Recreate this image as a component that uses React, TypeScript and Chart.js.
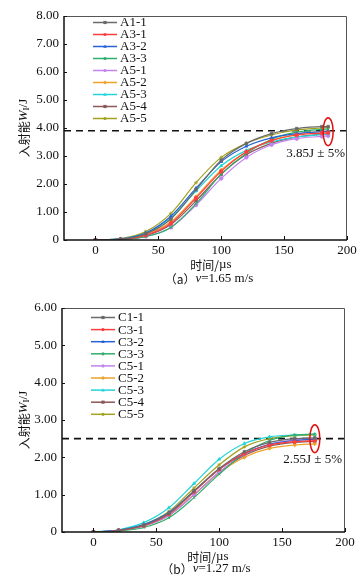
import React, { useEffect, useRef } from "react";
import { Chart, registerables } from "chart.js";
Chart.register(...registerables);

// ---------- DATA ----------
const timeA = [0, 20, 40, 60, 80, 100, 120, 140, 160, 180, 185];
const labelsA = ["A1-1", "A3-1", "A3-2", "A3-3", "A5-1", "A5-2", "A5-3", "A5-4", "A5-5"];
const a11 = [0, 0.03, 0.22, 0.75, 1.8, 2.85, 3.45, 3.8, 3.98, 4.05, 4.05];
const a31 = [0, 0.02, 0.17, 0.6, 1.5, 2.45, 3.15, 3.55, 3.75, 3.82, 3.83];
const a32 = [0, 0.04, 0.25, 0.85, 1.85, 2.8, 3.35, 3.65, 3.8, 3.87, 3.88];
const a33 = [0, 0.02, 0.12, 0.45, 1.3, 2.35, 3.1, 3.6, 3.85, 3.95, 3.96];
const a51 = [0, 0.02, 0.13, 0.45, 1.25, 2.2, 2.95, 3.4, 3.62, 3.7, 3.72];
const a52 = [0, 0.03, 0.2, 0.65, 1.55, 2.5, 3.15, 3.55, 3.78, 3.88, 3.9];
const a53 = [0, 0.04, 0.24, 0.8, 1.75, 2.65, 3.2, 3.5, 3.68, 3.76, 3.78];
const a54 = [0, 0.02, 0.15, 0.55, 1.4, 2.35, 3.05, 3.45, 3.68, 3.78, 3.8];
const a55 = [0, 0.05, 0.3, 0.95, 2.05, 2.95, 3.45, 3.75, 3.93, 4.0, 4.02];
const seriesA = [a11, a31, a32, a33, a51, a52, a53, a54, a55];
const refA = 3.9;
const noteA = "3.85J ± 5%";
const captionA = ["（a）", "v", "=1.65 m/s"];

const timeC = [0, 20, 40, 60, 80, 100, 120, 140, 160, 176];
const labelsC = ["C1-1", "C3-1", "C3-2", "C3-3", "C5-1", "C5-2", "C5-3", "C5-4", "C5-5"];
const c11 = [0, 0.04, 0.18, 0.5, 1.1, 1.7, 2.15, 2.4, 2.5, 2.52];
const c31 = [0, 0.04, 0.17, 0.48, 1.08, 1.68, 2.1, 2.33, 2.42, 2.45];
const c32 = [0, 0.05, 0.2, 0.52, 1.1, 1.68, 2.1, 2.35, 2.45, 2.48];
const c33 = [0, 0.03, 0.12, 0.38, 0.92, 1.55, 2.1, 2.45, 2.6, 2.62];
const c51 = [0, 0.04, 0.16, 0.45, 1.0, 1.6, 2.08, 2.35, 2.47, 2.5];
const c52 = [0, 0.04, 0.17, 0.46, 1.0, 1.58, 2.0, 2.24, 2.33, 2.36];
const c53 = [0, 0.06, 0.25, 0.65, 1.3, 1.95, 2.37, 2.55, 2.6, 2.62];
const c54 = [0, 0.04, 0.16, 0.44, 1.0, 1.6, 2.05, 2.3, 2.4, 2.43];
const c55 = [0, 0.05, 0.2, 0.55, 1.18, 1.8, 2.28, 2.5, 2.58, 2.6];
const seriesC = [c11, c31, c32, c33, c51, c52, c53, c54, c55];
const refC = 2.5;
const noteC = "2.55J ± 5%";
const captionC = ["（b）", "v", "=1.27 m/s"];

const xTicks = [0, 50, 100, 150, 200];
const xMin = -25;
const xMax = 200;

const colors = ["#6a6a6a", "#ff3d3d", "#2563d6", "#2fae6c", "#c183ef", "#eda22a", "#22d4d8", "#8a5858", "#a3a11e"];
const markers = ["rect", "circle", "triangle", "crossRot", "circle", "rectRot", "triangle", "rect", "star"];

const SERIF = "'Liberation Serif', 'DejaVu Serif', serif";
const CJK = "'Noto Sans CJK SC', sans-serif";

type Panel = {
  time: number[];
  labels: string[];
  series: number[][];
  yMax: number;
  ref: number;
  note: string;
  caption: string[];
  ellipseX: number;
  ellipseY: number;
  area: { left: number; right: number; top: number; bottom: number };
  legendY: number;
  legendStep: number;
  xTitleY: number;
  captionY: number;
  noteY: number;
  noteRight: number;
  titleX: number;
};

const panels: Panel[] = [
  {
    time: timeA, labels: labelsA, series: seriesA, yMax: 8, ref: refA, note: noteA, caption: captionA,
    ellipseX: 185, ellipseY: 3.87,
    area: { left: 64, right: 347, top: 16, bottom: 240 },
    legendY: 22.5, legendStep: 12, xTitleY: 265, captionY: 279, noteY: 154, noteRight: 345, titleX: 211,
  },
  {
    time: timeC, labels: labelsC, series: seriesC, yMax: 6, ref: refC, note: noteC, caption: captionC,
    ellipseX: 176, ellipseY: 2.5,
    area: { left: 62, right: 345, top: 15, bottom: 239 },
    legendY: 24.5, legendStep: 12.1, xTitleY: 264, captionY: 276, noteY: 167, noteRight: 342, titleX: 208,
  },
];

function drawMarker(ctx: CanvasRenderingContext2D, style: string, x: number, y: number, r: number, color: string) {
  ctx.save();
  ctx.fillStyle = color;
  ctx.strokeStyle = color;
  ctx.lineWidth = 1;
  ctx.beginPath();
  if (style === "rect") ctx.rect(x - r, y - r, 2 * r, 2 * r);
  else if (style === "triangle") { ctx.moveTo(x, y - r * 1.2); ctx.lineTo(x + r * 1.1, y + r * 0.8); ctx.lineTo(x - r * 1.1, y + r * 0.8); ctx.closePath(); }
  else if (style === "rectRot") { ctx.moveTo(x, y - r * 1.3); ctx.lineTo(x + r * 1.3, y); ctx.lineTo(x, y + r * 1.3); ctx.lineTo(x - r * 1.3, y); ctx.closePath(); }
  else ctx.arc(x, y, r, 0, Math.PI * 2);
  ctx.fill();
  ctx.restore();
}

function makeOverlay(p: Panel) {
  return {
    id: "overlay",
    afterDraw(chart: any) {
      const ctx: CanvasRenderingContext2D = chart.ctx;
      const { left, right, top, bottom } = chart.chartArea;
      const xs = chart.scales.x;
      const ys = chart.scales.y;
      ctx.save();
      // frame
      ctx.strokeStyle = "#555";
      ctx.lineWidth = 1;
      ctx.beginPath();
      ctx.moveTo(left, top + 0.5);
      ctx.lineTo(right - 0.5, top + 0.5);
      ctx.lineTo(right - 0.5, bottom);
      ctx.stroke();
      ctx.strokeStyle = "#111";
      ctx.lineWidth = 1.5;
      ctx.beginPath();
      ctx.moveTo(left, top);
      ctx.lineTo(left, bottom);
      ctx.lineTo(right, bottom);
      ctx.stroke();
      // inside ticks
      ctx.lineWidth = 1;
      xTicks.forEach((v) => {
        const px = Math.round(xs.getPixelForValue(v)) + 0.5;
        ctx.beginPath();
        ctx.moveTo(px, bottom);
        ctx.lineTo(px, bottom - 4);
        ctx.stroke();
      });
      for (let v = 0; v <= p.yMax; v++) {
        const py = Math.round(ys.getPixelForValue(v)) + 0.5;
        ctx.beginPath();
        ctx.moveTo(left, py);
        ctx.lineTo(left + 3, py);
        ctx.stroke();
      }
      // ellipse
      const ex = xs.getPixelForValue(p.ellipseX);
      const ey = ys.getPixelForValue(p.ellipseY);
      ctx.strokeStyle = "#e01010";
      ctx.lineWidth = 1.5;
      ctx.beginPath();
      ctx.ellipse(ex, ey, 5, 14, 0, 0, Math.PI * 2);
      ctx.stroke();
      // note
      ctx.fillStyle = "#111";
      ctx.font = `13px ${SERIF}`;
      ctx.textAlign = "right";
      ctx.textBaseline = "middle";
      ctx.fillText(p.note, p.noteRight, p.noteY);
      // legend
      ctx.textAlign = "left";
      ctx.font = `13px ${SERIF}`;
      p.labels.forEach((lab, i) => {
        const y = p.legendY + i * p.legendStep;
        ctx.strokeStyle = colors[i];
        ctx.lineWidth = 1.5;
        ctx.beginPath();
        ctx.moveTo(left + 29, y);
        ctx.lineTo(left + 53, y);
        ctx.stroke();
        drawMarker(ctx, markers[i], left + 41, y, 1.6, colors[i]);
        ctx.fillStyle = "#111";
        ctx.fillText(lab, left + 56, y + 0.5);
      });
      // y title
      const cy = (top + bottom) / 2;
      ctx.save();
      ctx.translate(24, cy);
      ctx.rotate(-Math.PI / 2);
      ctx.textBaseline = "middle";
      const parts: [string, string, number][] = [
        ["入射能", `12px ${CJK}`, 0],
        ["W", `italic 13px ${SERIF}`, 0],
        ["I", `9px ${SERIF}`, 3],
        ["/J", `13px ${SERIF}`, 0],
      ];
      let total = 0;
      parts.forEach(([t, f]) => { ctx.font = f; total += ctx.measureText(t).width; });
      let x0 = -total / 2;
      parts.forEach(([t, f, dy]) => {
        ctx.font = f;
        ctx.fillText(t, x0, dy);
        x0 += ctx.measureText(t).width;
      });
      ctx.restore();
      // x title
      const xparts: [string, string][] = [["时间/", `12px ${CJK}`], ["µs", `13px ${SERIF}`]];
      const drawCentered = (arr: [string, string][], cx: number, y: number) => {
        let w = 0;
        arr.forEach(([t, f]) => { ctx.font = f; w += ctx.measureText(t).width; });
        let x = cx - w / 2;
        ctx.textAlign = "left";
        ctx.textBaseline = "middle";
        arr.forEach(([t, f]) => { ctx.font = f; ctx.fillText(t, x, y); x += ctx.measureText(t).width; });
      };
      drawCentered(xparts, p.titleX, p.xTitleY);
      drawCentered(
        [
          [p.caption[0], `12px ${CJK}`],
          [p.caption[1], `italic 13px ${SERIF}`],
          [p.caption[2], `13px ${SERIF}`],
        ],
        p.titleX - 2,
        p.captionY
      );
      ctx.restore();
    },
  };
}

function PanelChart({ p }: { p: Panel }) {
  const ref = useRef<HTMLCanvasElement | null>(null);
  useEffect(() => {
    if (!ref.current) return;
    const datasets: any[] = p.series.map((s, i) => ({
      label: p.labels[i],
      data: s.map((v, j) => ({ x: p.time[j], y: v })),
      borderColor: colors[i],
      backgroundColor: colors[i],
      borderWidth: 1.2,
      pointRadius: 1.8,
      pointStyle: markers[i],
      pointBorderWidth: 0.8,
      tension: 0.4,
      cubicInterpolationMode: "monotone",
      fill: false,
    }));
    datasets.push({
      label: "ref",
      data: [{ x: xMin, y: p.ref }, { x: xMax, y: p.ref }],
      borderColor: "#111",
      borderWidth: 1.6,
      borderDash: [7, 5],
      pointRadius: 0,
      fill: false,
    });
    const { left, right, top, bottom } = p.area;
    const chart = new Chart(ref.current, {
      type: "line",
      data: { datasets },
      options: {
        animation: false,
        responsive: false,
        maintainAspectRatio: false,
        layout: { padding: { left: 0, right: 362 - right, top, bottom: 0 } },
        plugins: { legend: { display: false }, tooltip: { enabled: false } },
        scales: {
          x: {
            type: "linear",
            min: xMin,
            max: xMax,
            grid: { display: false, drawTicks: false },
            border: { display: false },
            afterBuildTicks: (s: any) => { s.ticks = xTicks.map((v) => ({ value: v })); },
            afterFit: (s: any) => { s.height = 293 - bottom; },
            ticks: { color: "#111", font: { family: SERIF, size: 13 }, padding: 3, maxRotation: 0 },
          },
          y: {
            min: 0,
            max: p.yMax,
            grid: { display: false, drawTicks: false },
            border: { display: false },
            afterFit: (s: any) => { s.width = left; },
            ticks: {
              stepSize: 1,
              color: "#111",
              font: { family: SERIF, size: 13 },
              padding: 5,
              callback: (v: any) => (Number(v) === 0 ? "0" : Number(v).toFixed(2)),
            },
          },
        },
      },
      plugins: [makeOverlay(p)],
    });
    return () => chart.destroy();
  }, [p]);
  return <canvas ref={ref} width={362} height={293} style={{ display: "block", width: 362, height: 293 }} />;
}

export default function App() {
  useEffect(() => {
    document.body.style.margin = "0";
    document.body.style.background = "#fff";
  }, []);
  return (
    <div style={{ width: 362, height: 586, background: "#fff" }}>
      {panels.map((p, i) => (
        <PanelChart key={i} p={p} />
      ))}
    </div>
  );
}
